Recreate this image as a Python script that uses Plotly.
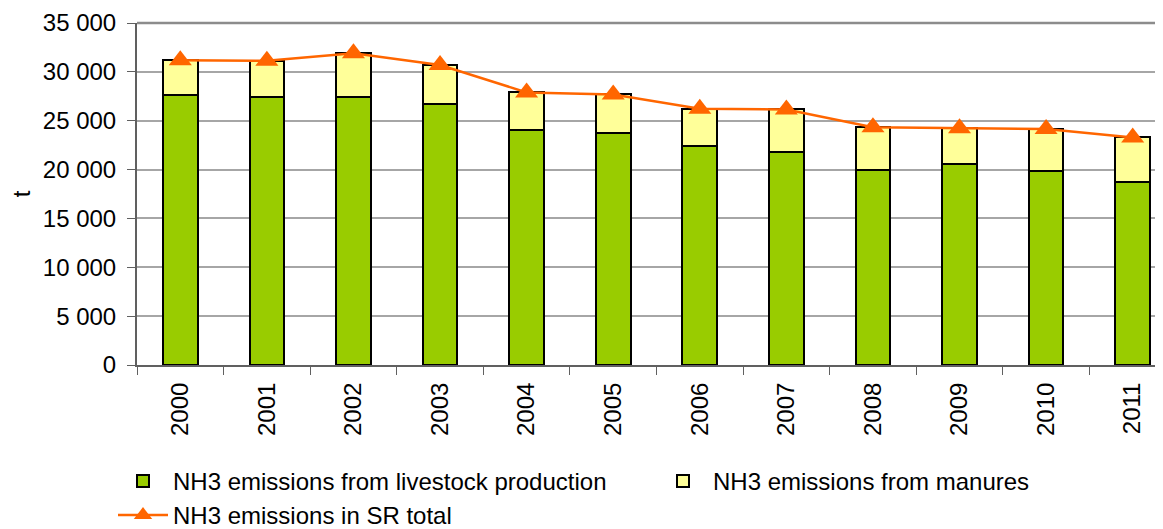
import plotly.graph_objects as go

years = ["2000", "2001", "2002", "2003", "2004", "2005", "2006", "2007", "2008", "2009", "2010", "2011"]
livestock = [27620, 27450, 27450, 26700, 24040, 23760, 22400, 21780, 20000, 20520, 19870, 18740]
total = [31180, 31140, 31900, 30700, 27900, 27690, 26220, 26150, 24340, 24240, 24140, 23290]
manures = [t - l for t, l in zip(total, livestock)]

name_livestock = "NH3 emissions from livestock production"
name_manures = "NH3 emissions from manures"
name_total = "NH3 emissions in SR total"

FONT = "Liberation Sans, Arial, sans-serif"
FS = 24
W, H = 1155, 521

fig = go.Figure()
fig.add_trace(go.Bar(
    x=years, y=livestock, name=name_livestock, legend="legend",
    marker=dict(color="#99CC00", line=dict(color="#000000", width=2)),
    width=0.4,
))
fig.add_trace(go.Bar(
    x=years, y=manures, name=name_manures, legend="legend2",
    marker=dict(color="#FFFF99", line=dict(color="#000000", width=2)),
    width=0.4,
))
fig.add_trace(go.Scatter(
    x=years, y=total, name=name_total, mode="lines+markers", legend="legend3",
    line=dict(color="#FF6600", width=2.5),
    marker=dict(symbol="triangle-up", size=20, color="#FF6600"),
))


def leg(x_px, top_px):
    return dict(
        orientation="h",
        xref="container", yref="container",
        x=x_px / W, y=1 - top_px / H,
        xanchor="left", yanchor="top",
        font=dict(family=FONT, size=FS, color="#000000"),
        itemwidth=50,
        bgcolor="rgba(0,0,0,0)",
    )


fig.update_layout(
    barmode="stack",
    width=W, height=H,
    margin=dict(l=129, r=0, t=15, b=164, autoexpand=False),
    paper_bgcolor="white", plot_bgcolor="white",
    font=dict(family=FONT, size=FS, color="#000000"),
    separators=", ",
    showlegend=True,
    legend=leg(105, 451),
    legend2=leg(645, 451),
    legend3=leg(105, 485),
    xaxis=dict(
        type="category",
        range=[-0.5, 11.35],
        automargin=False,
        tickangle=-90,
        tickson="boundaries",
        ticks="outside", ticklen=8, tickcolor="#606060",
        ticklabelstandoff=6,
        showline=True, linecolor="#606060", linewidth=2,
        showgrid=False,
        tickfont=dict(family=FONT, size=FS),
    ),
    yaxis=dict(
        range=[0, 35000], dtick=5000, tickformat=",d",
        automargin=False,
        ticks="outside", ticklen=8, tickcolor="#606060",
        ticklabelstandoff=6,
        showline=True, linecolor="#606060", linewidth=2,
        showgrid=True, gridcolor="#A6A6A6", gridwidth=1.5,
        zeroline=False,
        tickfont=dict(family=FONT, size=FS),
        title=dict(text="t", standoff=20, font=dict(family=FONT, size=FS)),
    ),
    shapes=[dict(type="line", xref="paper", yref="paper", x0=0, x1=1, y0=1, y1=1,
                 line=dict(color="#8C8C8C", width=2.5))],
)

fig.write_html("out.html")
